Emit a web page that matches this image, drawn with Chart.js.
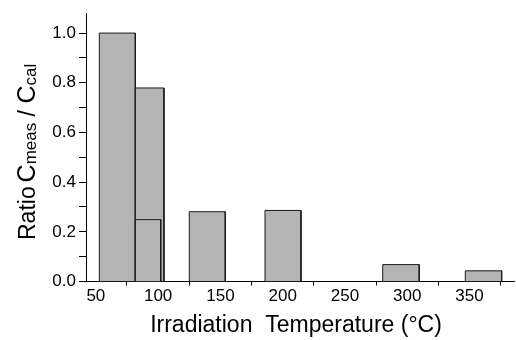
<!DOCTYPE html>
<html>
<head>
<meta charset="utf-8">
<script src="https://cdn.jsdelivr.net/npm/chart.js@4/dist/chart.umd.min.js"></script>
<style>
  html, body { margin: 0; padding: 0; background: #fff; }
  #wrap { width: 516px; height: 340px; position: relative; }
</style>
</head>
<body>
<div id="wrap"><canvas id="c" width="516" height="340"></canvas></div>
<script>
// Histogram bins: irradiation temperature (°C) start / end, and ratio Cmeas/Ccal
const binStart = [52.8, 81.7, 81.7, 125.0, 185.8, 280.3, 346.6];
const binEnd   = [81.7, 104.7, 102.1, 153.9, 214.7, 309.6, 375.8];
const ratio    = [1.0, 0.779, 0.249, 0.281, 0.286, 0.068, 0.043];

const xTickValues = [50, 75, 100, 125, 150, 175, 200, 225, 250, 275, 300, 325, 350, 375];
const yTickValues = [0, 0.1, 0.2, 0.3, 0.4, 0.5, 0.6, 0.7, 0.8, 0.9, 1.0];

const FONT = '"Liberation Sans", Arial, Helvetica, sans-serif';

const datasets = ratio.map((h, i) => ({
  data: [
    { x: binStart[i], y: 0 },
    { x: binStart[i], y: h },
    { x: binEnd[i], y: h },
    { x: binEnd[i], y: 0 }
  ],
  borderColor: '#1a1a1a',
  borderWidth: 1,
  backgroundColor: '#b4b4b4',
  fill: 'origin',
  pointRadius: 0,
  tension: 0,
  order: h
}));

const titlePlugin = {
  id: 'axisTitles',
  afterDraw(chart) {
    const ctx = chart.ctx;
    ctx.save();
    ctx.fillStyle = '#000';
    ctx.textBaseline = 'alphabetic';
    // x title
    ctx.font = '23px ' + FONT;
    ctx.textAlign = 'center';
    ctx.fillText('Irradiation  Temperature (°C)', 296, 332);
    // y title (rotated, with subscripts)
    ctx.textAlign = 'left';
    ctx.translate(35, 240);
    ctx.rotate(-Math.PI / 2);
    const parts = [
      { t: 'Ratio', s: 23, dy: 0 },
      { t: ' ', s: 14, dy: 0 },
      { t: 'C', s: 25, dy: 0 },
      { t: 'meas', s: 17, dy: 1 },
      { t: ' / ', s: 23, dy: 0 },
      { t: 'C', s: 25, dy: 0 },
      { t: 'cal', s: 17, dy: 1 }
    ];
    let x = 0;
    for (const p of parts) {
      ctx.font = p.s + 'px ' + FONT;
      ctx.fillText(p.t, x, p.dy);
      x += ctx.measureText(p.t).width;
    }
    ctx.restore();
  }
};

new Chart(document.getElementById('c'), {
  type: 'line',
  data: { datasets },
  options: {
    responsive: false,
    animation: false,
    devicePixelRatio: 1,
    layout: { padding: { left: 0, right: 2, top: 9, bottom: 0 } },
    plugins: { legend: { display: false }, tooltip: { enabled: false }, title: { display: false } },
    scales: {
      x: {
        type: 'linear',
        min: 42.1,
        max: 385.7,
        afterBuildTicks: (scale) => { scale.ticks = xTickValues.map(v => ({ value: v })); },
        afterFit: (scale) => { scale.height = 58.5; },
        ticks: {
          autoSkip: false,
          maxRotation: 0,
          padding: 1,
          color: '#000',
          font: { family: FONT, size: 17 },
          callback: (v) => (v % 50 === 0 ? String(v) : '')
        },
        grid: {
          drawOnChartArea: false,
          drawTicks: true,
          tickLength: 4,
          tickWidth: 1,
          tickColor: (c) => (c.tick && c.tick.value % 50 === 0 ? 'rgba(0,0,0,0)' : '#000')
        },
        border: { display: true, color: '#000', width: 1 }
      },
      y: {
        type: 'linear',
        min: 0,
        max: 1.08,
        afterBuildTicks: (scale) => { scale.ticks = yTickValues.map(v => ({ value: v })); },
        afterFit: (scale) => { scale.width = 86; },
        ticks: {
          autoSkip: false,
          padding: 3,
          color: '#000',
          font: { family: FONT, size: 17 },
          callback: (v, i) => (i % 2 === 0 ? v.toFixed(1) : '')
        },
        grid: {
          drawOnChartArea: false,
          drawTicks: true,
          tickLength: 7,
          tickWidth: 1,
          tickColor: '#000'
        },
        border: { display: true, color: '#000', width: 1 }
      }
    }
  },
  plugins: [titlePlugin]
});
</script>
</body>
</html>
